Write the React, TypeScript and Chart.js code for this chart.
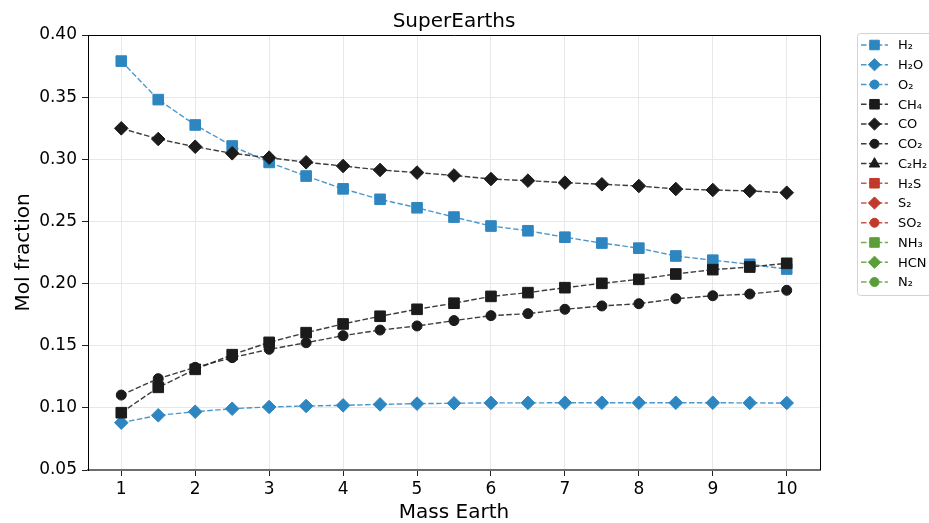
import React, { useEffect, useRef } from "react";
import { Chart, registerables } from "chart.js";

Chart.register(...registerables);

// Planet mass in Earth masses
const massEarth = [1, 1.5, 2, 2.5, 3, 3.5, 4, 4.5, 5, 5.5, 6, 6.5, 7, 7.5, 8, 8.5, 9, 9.5, 10];

// Mole fractions per species
const h2 = [0.379, 0.348, 0.3276, 0.3107, 0.2975, 0.2865, 0.2762, 0.2678, 0.261, 0.2535, 0.2463, 0.2425, 0.2373, 0.2326, 0.2285, 0.2222, 0.2188, 0.2155, 0.2117];
const h2o = [0.0881, 0.094, 0.0969, 0.0993, 0.1007, 0.1015, 0.102, 0.1028, 0.1034, 0.1037, 0.104, 0.104, 0.1041, 0.1041, 0.1041, 0.1041, 0.1041, 0.104, 0.1039];
const o2: number[] = [];
const ch4 = [0.0961, 0.1165, 0.131, 0.1428, 0.1527, 0.1605, 0.1675, 0.1737, 0.1793, 0.1842, 0.1897, 0.1927, 0.1967, 0.2002, 0.2034, 0.2077, 0.2112, 0.2133, 0.2163];
const co = [0.3249, 0.3163, 0.3101, 0.3048, 0.3013, 0.2976, 0.2946, 0.2914, 0.2893, 0.287, 0.2841, 0.2828, 0.2812, 0.2799, 0.2785, 0.2761, 0.2753, 0.2745, 0.2731];
const co2 = [0.1103, 0.1235, 0.1326, 0.1404, 0.1471, 0.1524, 0.1581, 0.1626, 0.1659, 0.1702, 0.1742, 0.1758, 0.1793, 0.182, 0.1838, 0.1878, 0.1902, 0.1916, 0.1946];
const c2h2: number[] = [];
const h2s: number[] = [];
const s2: number[] = [];
const so2: number[] = [];
const nh3: number[] = [];
const hcn: number[] = [];
const n2: number[] = [];

// Axis ticks
const xTicks = [1, 2, 3, 4, 5, 6, 7, 8, 9, 10];
const yTicks = [0.05, 0.1, 0.15, 0.2, 0.25, 0.3, 0.35, 0.4];

const BLUE = "#2e86c1";
const BLACK = "#1b1b1b";
const RED = "#c0392b";
const GREEN = "#5a9e3a";

const FONT = "'DejaVu Sans', sans-serif";

type Species = { label: string; values: number[]; color: string; marker: string };

const species: Species[] = [
  { label: "H₂", values: h2, color: BLUE, marker: "rect" },
  { label: "H₂O", values: h2o, color: BLUE, marker: "rectRot" },
  { label: "O₂", values: o2, color: BLUE, marker: "circle" },
  { label: "CH₄", values: ch4, color: BLACK, marker: "rect" },
  { label: "CO", values: co, color: BLACK, marker: "rectRot" },
  { label: "CO₂", values: co2, color: BLACK, marker: "circle" },
  { label: "C₂H₂", values: c2h2, color: BLACK, marker: "triangle" },
  { label: "H₂S", values: h2s, color: RED, marker: "rect" },
  { label: "S₂", values: s2, color: RED, marker: "rectRot" },
  { label: "SO₂", values: so2, color: RED, marker: "circle" },
  { label: "NH₃", values: nh3, color: GREEN, marker: "rect" },
  { label: "HCN", values: hcn, color: GREEN, marker: "rectRot" },
  { label: "N₂", values: n2, color: GREEN, marker: "circle" },
];

const markerRadius: Record<string, number> = { rect: 7.5, rectRot: 6.8, circle: 5, triangle: 6.5 };
const DASH = [5.5, 2.4];

function hexToRgba(hex: string, a: number) {
  const n = parseInt(hex.slice(1), 16);
  return `rgba(${(n >> 16) & 255},${(n >> 8) & 255},${n & 255},${a})`;
}

function drawMarker(ctx: CanvasRenderingContext2D, style: string, x: number, y: number, r: number, color: string) {
  ctx.save();
  ctx.fillStyle = color;
  ctx.strokeStyle = color;
  ctx.lineWidth = 1;
  ctx.setLineDash([]);
  ctx.beginPath();
  if (style === "rect") {
    const s = Math.SQRT1_2 * r;
    ctx.rect(x - s, y - s, 2 * s, 2 * s);
  } else if (style === "rectRot") {
    ctx.moveTo(x - r, y);
    ctx.lineTo(x, y - r);
    ctx.lineTo(x + r, y);
    ctx.lineTo(x, y + r);
    ctx.closePath();
  } else if (style === "triangle") {
    ctx.moveTo(x, y - r);
    ctx.lineTo(x + r * 0.9, y + r * 0.6);
    ctx.lineTo(x - r * 0.9, y + r * 0.6);
    ctx.closePath();
  } else {
    ctx.arc(x, y, r, 0, Math.PI * 2);
  }
  ctx.fill();
  ctx.stroke();
  ctx.restore();
}

const decorations = {
  id: "decorations",
  afterDraw(chart: any) {
    const ctx: CanvasRenderingContext2D = chart.ctx;
    const { left, right, top, bottom } = chart.chartArea;
    ctx.save();

    // top and right spines
    ctx.strokeStyle = "#000";
    ctx.lineWidth = 1;
    ctx.beginPath();
    ctx.moveTo(left, top + 0.5);
    ctx.lineTo(right + 0.5, top + 0.5);
    ctx.lineTo(right + 0.5, bottom);
    ctx.stroke();

    // title and axis titles
    ctx.fillStyle = "#000";
    ctx.textAlign = "center";
    ctx.textBaseline = "alphabetic";
    ctx.font = `20px ${FONT}`;
    ctx.fillText("SuperEarths", (left + right) / 2, 27);
    ctx.fillText("Mass Earth", (left + right) / 2, 518);
    ctx.save();
    ctx.translate(28.5, (top + bottom) / 2);
    ctx.rotate(-Math.PI / 2);
    ctx.fillText("Mol fraction", 0, 0);
    ctx.restore();

    // legend
    const bx = 857.5, by = 33.5, bw = 90, bh = 262;
    ctx.beginPath();
    const rr = 3;
    ctx.moveTo(bx + rr, by);
    ctx.lineTo(bx + bw - rr, by);
    ctx.arcTo(bx + bw, by, bx + bw, by + rr, rr);
    ctx.lineTo(bx + bw, by + bh - rr);
    ctx.arcTo(bx + bw, by + bh, bx + bw - rr, by + bh, rr);
    ctx.lineTo(bx + rr, by + bh);
    ctx.arcTo(bx, by + bh, bx, by + bh - rr, rr);
    ctx.lineTo(bx, by + rr);
    ctx.arcTo(bx, by, bx + rr, by, rr);
    ctx.closePath();
    ctx.fillStyle = "rgba(255,255,255,0.8)";
    ctx.fill();
    ctx.strokeStyle = "#d3d3d3";
    ctx.stroke();

    ctx.font = `13px ${FONT}`;
    ctx.textAlign = "left";
    ctx.textBaseline = "middle";
    species.forEach((sp, i) => {
      const y = 45 + i * 19.75;
      ctx.save();
      ctx.strokeStyle = hexToRgba(sp.color, 0.85);
      ctx.lineWidth = 1.4;
      ctx.setLineDash(DASH);
      ctx.beginPath();
      ctx.moveTo(861, y);
      ctx.lineTo(888, y);
      ctx.stroke();
      ctx.restore();
      drawMarker(ctx, sp.marker, 874.5, y, markerRadius[sp.marker] * 0.9, sp.color);
      ctx.fillStyle = "#000";
      ctx.fillText(sp.label, 898, y + 1);
    });
    ctx.restore();
  },
};

export default function App() {
  const canvasRef = useRef<HTMLCanvasElement | null>(null);

  useEffect(() => {
    const canvas = canvasRef.current;
    if (!canvas) return;

    const datasets = species.map((sp, i) => ({
      label: sp.label,
      data: sp.values.map((v, k) => ({ x: massEarth[k], y: v })),
      borderColor: hexToRgba(sp.color, 0.85),
      backgroundColor: sp.color,
      borderWidth: 1.4,
      borderDash: DASH,
      pointStyle: sp.marker,
      pointRadius: markerRadius[sp.marker],
      pointBackgroundColor: sp.color,
      pointBorderColor: sp.color,
      pointBorderWidth: 1,
      tension: 0,
      fill: false,
      order: -i,
    }));

    const chart = new Chart(canvas, {
      type: "line",
      data: { datasets },
      options: {
        animation: false,
        responsive: false,
        devicePixelRatio: 1,
        layout: { padding: { left: 0, top: 35, right: 109, bottom: 0 } },
        plugins: {
          legend: { display: false },
          title: { display: false },
          tooltip: { enabled: false },
        },
        scales: {
          x: {
            type: "linear",
            min: 0.55,
            max: 10.45,
            afterBuildTicks: (scale: any) => {
              scale.ticks = xTicks.map((v) => ({ value: v }));
            },
            afterFit: (scale: any) => {
              scale.height = 53;
            },
            ticks: {
              font: { family: FONT, size: 17 },
              color: "#000",
              padding: 3,
              maxRotation: 0,
              callback: (v: any) => String(v),
            },
            grid: {
              color: "#e8e8e8",
              lineWidth: 1,
              tickLength: 6,
              tickColor: "#222",
            },
            border: { color: "#6e6e6e", width: 2 },
          },
          y: {
            type: "linear",
            min: 0.05,
            max: 0.4,
            afterBuildTicks: (scale: any) => {
              scale.ticks = yTicks.map((v) => ({ value: v }));
            },
            afterFit: (scale: any) => {
              scale.width = 88;
            },
            ticks: {
              font: { family: FONT, size: 17 },
              color: "#000",
              padding: 5,
              callback: (v: any) => Number(v).toFixed(2),
            },
            grid: {
              color: "#e8e8e8",
              lineWidth: 1,
              tickLength: 6,
              tickColor: "#222",
            },
            border: { color: "#000", width: 1 },
          },
        },
      },
      plugins: [decorations],
    } as any);

    return () => chart.destroy();
  }, []);

  return (
    <div style={{ position: "absolute", left: 0, top: 0, width: 929, height: 523, background: "#fff" }}>
      <canvas ref={canvasRef} width={929} height={523} style={{ width: 929, height: 523, display: "block" }} />
    </div>
  );
}
